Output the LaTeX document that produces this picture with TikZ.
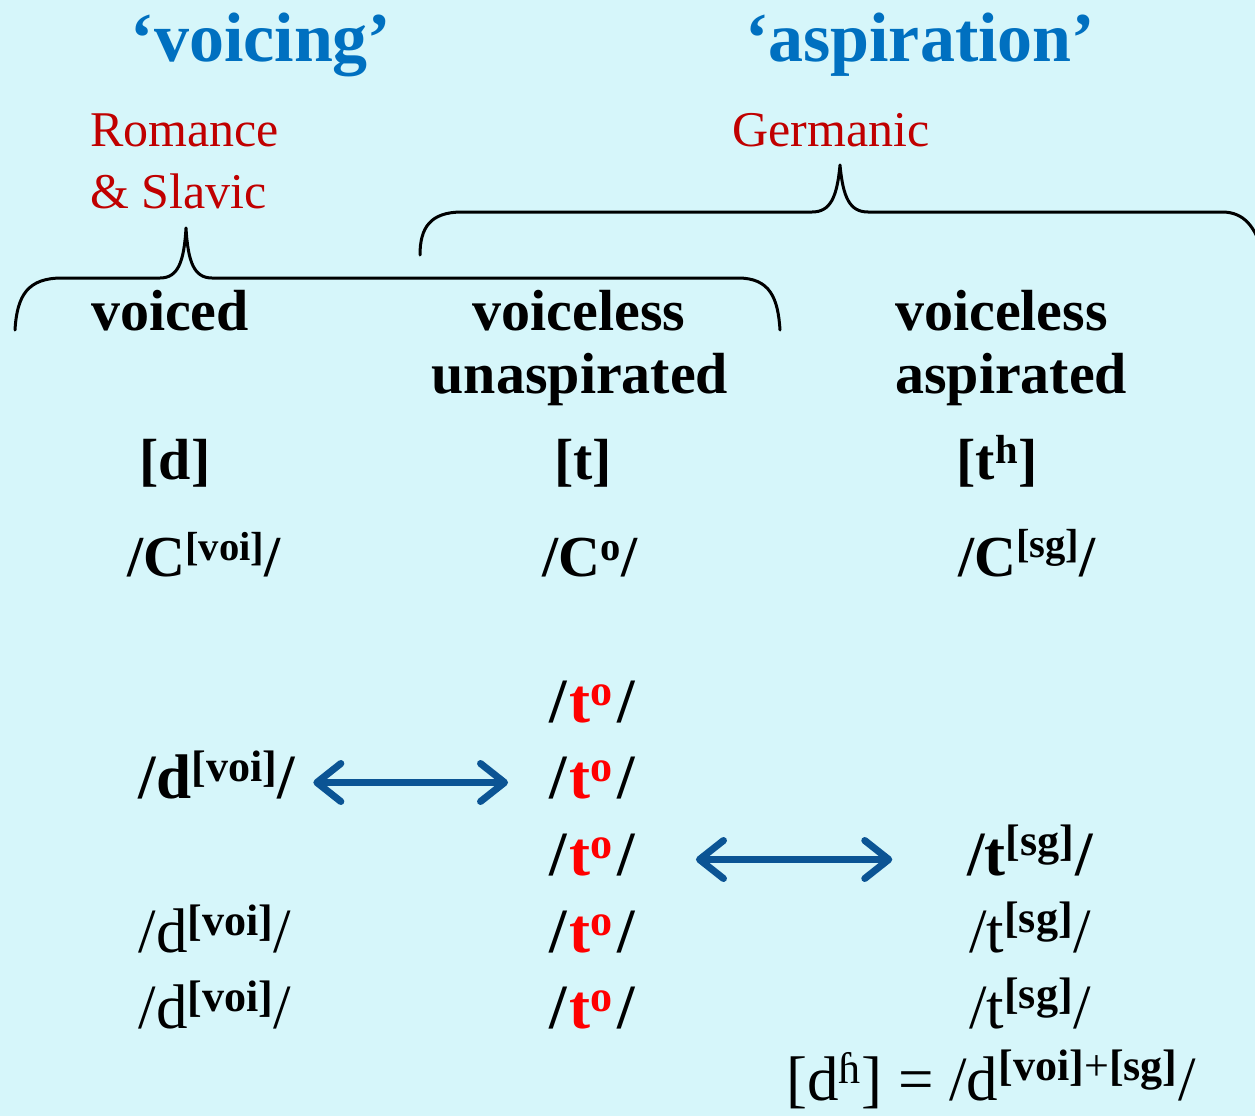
\documentclass[tikz,border=0pt]{standalone}
\usepackage{fontspec}
\setmainfont{Liberation Serif}
\usetikzlibrary{arrows.meta}
\definecolor{bgc}{RGB}{214,246,250}
\definecolor{ttlblue}{RGB}{0,112,192}
\definecolor{lngred}{RGB}{192,0,0}
\definecolor{tred}{RGB}{255,0,0}
\definecolor{arrblue}{RGB}{11,84,148}
\newcommand\sups[1]{\raisebox{0.12em}{\textsuperscript{#1}}}
\newcommand\tzero{/\kern3pt\textcolor{tred}{t\sups{o}}\kern4pt/}
\begin{document}
\begin{tikzpicture}[x=1pt,y=-1pt,
  ttlsty/.style={font=\fontsize{70}{80}\selectfont\bfseries, text=ttlblue, anchor=base, inner sep=0pt},
  lngsty/.style={font=\fontsize{50}{60}\selectfont, text=lngred, anchor=base west, inner sep=0pt},
  hdsty/.style={font=\fontsize{58}{66}\selectfont\bfseries, anchor=base, inner sep=0pt},
  hdwest/.style={hdsty, anchor=base west},
  symsty/.style={font=\fontsize{58}{66}\selectfont\bfseries, anchor=base, inner sep=0pt},
  phb/.style={font=\fontsize{63}{72}\selectfont\bfseries, anchor=base, inner sep=0pt, text height=47pt, text depth=16pt},
  phr/.style={font=\fontsize{63}{72}\selectfont, anchor=base, inner sep=0pt, text height=47pt, text depth=16pt},
  brc/.style={line width=3pt, line join=round, line cap=round},
  dblarrow/.style={draw=arrblue, line width=7pt,
    {Straight Barb[length=24pt,width=38pt,line cap=round,line join=round]}-{Straight Barb[length=24pt,width=38pt,line cap=round,line join=round]}}
]
\fill[bgc] (0,0) rectangle (1255,1116);
\useasboundingbox (0,0) rectangle (1255,1116);

% titles
\node[ttlsty] (voicing) at (261,62) {‘voicing’};
\node[ttlsty] (aspir) at (920,62) {‘aspiration’};

% language groups
\node[lngsty] (rom) at (90,146) {Romance};
\node[lngsty] (slav) at (90,208) {\& Slavic};
\node[lngsty] (germ) at (732,146) {Germanic};

% braces
\draw[brc] (15,330) .. controls (17,295) and (28,278) .. (62,278) -- (160,278)
  .. controls (178,278) and (184,262) .. (186,228)
  .. controls (188,262) and (194,278) .. (212,278) -- (738,278)
  .. controls (770,278) and (778,298) .. (780,330);
\draw[brc] (420,255) .. controls (420,228) and (430,212) .. (462,212) -- (812,212)
  .. controls (830,212) and (837,198) .. (840,165)
  .. controls (843,198) and (850,212) .. (868,212) -- (1222,212)
  .. controls (1245,212) and (1255,228) .. (1262,250);

% headings
\node[hdsty] (voiced) at (170,330) {voiced};
\node[hdsty] (vl1) at (579,330) {voiceless};
\node[hdsty] (unasp) at (580,393) {unaspirated};
\node[hdwest] (vl2) at (895,330) {voiceless};
\node[hdwest] (asp) at (895,393) {aspirated};

% phones
\node[symsty] (pd) at (175,479) {[d]};
\node[symsty] (pt) at (583,479) {[t]};
\node[symsty] (pth) at (997,479) {[t\sups{h}]};

\node[symsty] (cvoi) at (204,576) {/C\sups{[voi]}/};
\node[symsty] (czero) at (590,576) {/C\sups{o}/};
\node[symsty] (csg) at (1027,576) {/C\sups{[sg]}/};

% t column
\node[phb] (t1) at (592,722) {\tzero};
\node[phb] (t2) at (592,798) {\tzero};
\node[phb] (t3) at (592,875) {\tzero};
\node[phb] (t4) at (592,952) {\tzero};
\node[phb] (t5) at (592,1028) {\tzero};

% d column
\node[phb] (dvb) at (217,798) {/d\sups{[voi]}/};
\node[phr] (dv4) at (215,952) {/d\sups{\bfseries [voi]}/};
\node[phr] (dv5) at (215,1028) {/d\sups{\bfseries [voi]}/};

% t[sg] column
\node[phb] (tsgb) at (1030,875) {/t\sups{[sg]}/};
\node[phr] (tsg4) at (1030,952) {/t\sups{\bfseries [sg]}/};
\node[phr] (tsg5) at (1030,1028) {/t\sups{\bfseries [sg]}/};

% bottom formula
\node[phr] (dh) at (991,1100) {[d\sups{ɦ}] = /d\sups{\bfseries [voi]\mdseries+\bfseries[sg]}/};

% arrows
\draw[dblarrow, shorten <=18pt, shorten >=41pt] (dvb.east) -- (t2.west);
\draw[dblarrow, shorten <=61pt, shorten >=75pt] (t3.east) -- (tsgb.west);
\end{tikzpicture}
\end{document}
